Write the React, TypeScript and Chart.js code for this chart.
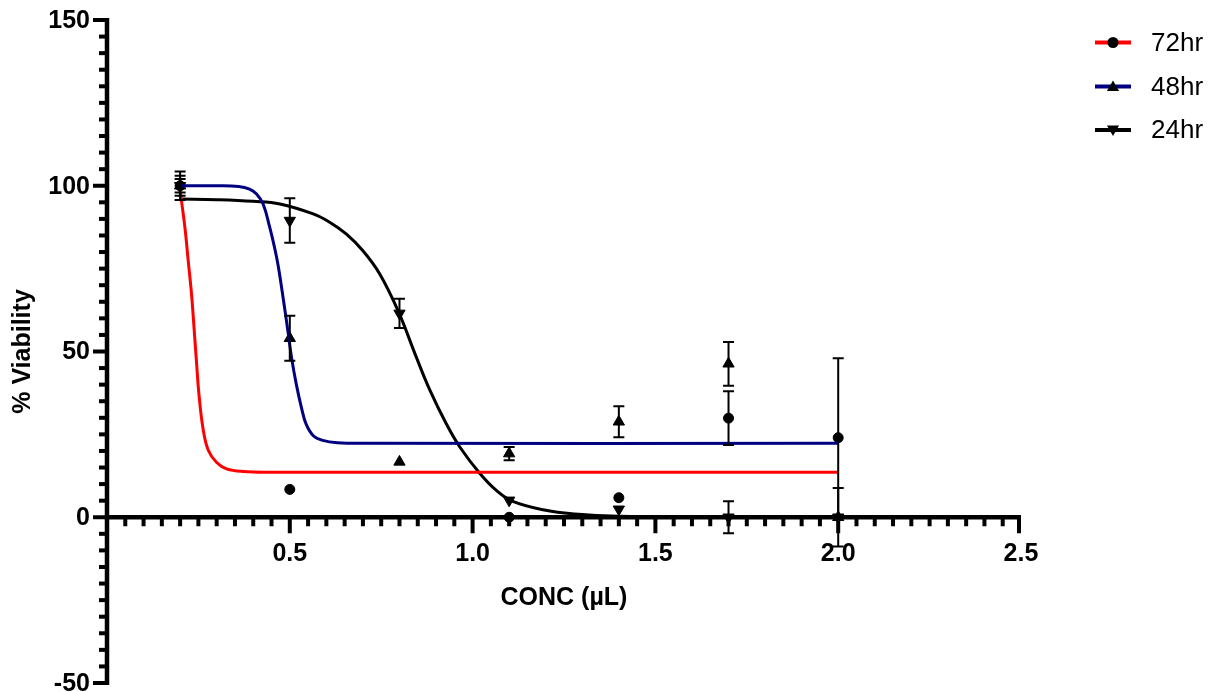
import React, { useEffect, useRef } from 'react';
import { Chart, registerables } from 'chart.js';

Chart.register(...registerables);

// ---- Data ----
const concentrations = [0.2, 0.5, 0.8, 1.1, 1.4, 1.7, 2.0];

const viability72: (number | null)[] = [100, 8.4, null, 0, 5.9, 29.9, 24];
const error72 = [2, 0, 0, 0, 0, 8.1, 24];

const viability48: (number | null)[] = [100, 54, 16.7, 19.2, 28.8, 46.3, 0];
const error48 = [3, 6.8, 0, 2.0, 4.7, 6.6, 0];

const viability24: (number | null)[] = [100, 89.5, 61.5, 5.1, 2.4, 0, 0];
const error24 = [4.3, 6.7, 4.4, 0, 0, 4.8, 8.8];

// fitted curves
const fit72X = [0.2, 0.213, 0.222, 0.231, 0.2385, 0.245, 0.252, 0.263, 0.277, 0.3, 0.327, 0.372, 0.45, 2.0];
const fit72Y = [98.5, 87.5, 77.5, 67.5, 56.5, 46.5, 36.5, 26.5, 20.2, 16.5, 14.6, 13.8, 13.6, 13.6];

const fit48X = [0.2, 0.3, 0.36, 0.39, 0.409, 0.427, 0.445, 0.459, 0.468, 0.482, 0.495, 0.505, 0.518, 0.532, 0.545, 0.565, 0.59, 0.63, 0.7, 2.0];
const fit48Y = [100, 100, 99.8, 99, 97.5, 94.5, 87.5, 81, 76, 66, 56, 48, 40, 33, 28, 24.5, 23.2, 22.5, 22.3, 22.3];

const fit24X = [0.2, 0.3, 0.4, 0.473, 0.564, 0.609, 0.655, 0.7, 0.746, 0.796, 0.846, 0.8825, 0.928, 0.965, 1.02, 1.065, 1.11, 1.2, 1.28, 1.4, 1.6, 2.0];
const fit24Y = [96, 95.8, 95.3, 94.5, 91.5, 89, 85.4, 80.4, 73.4, 62.3, 48.3, 38.5, 28.2, 21.2, 13.2, 8.1, 4.8, 2.1, 1.0, 0.3, 0.05, 0];

const seriesNames = ['72hr', '48hr', '24hr'];
const seriesColors = ['#ff0000', '#000080', '#000000'];
const seriesMarkers = ['circle', 'up', 'down'];

const xMin = 0;
const xMax = 2.5;
const yMin = -50;
const yMax = 150;
const xTickValues = [0.5, 1.0, 1.5, 2.0, 2.5];
const xTickLabels = ['0.5', '1.0', '1.5', '2.0', '2.5'];
const yTickValues = [-50, 0, 50, 100, 150];
const yTickLabels = ['-50', '0', '50', '100', '150'];
const xMinorStep = 0.05;
const yMinorStep = 5;

const xTitle = 'CONC (µL)';
const yTitle = '% Viability';

const FONT = '"Liberation Sans", Arial, Helvetica, sans-serif';

function pts(xs: number[], ys: (number | null)[]) {
  return xs.map((x, i) => ({ x, y: ys[i] }));
}

function drawMarker(ctx: CanvasRenderingContext2D, style: string, x: number, y: number, r: number) {
  ctx.beginPath();
  if (style === 'circle') {
    ctx.arc(x, y, r, 0, Math.PI * 2);
  } else {
    const d = style === 'up' ? 1 : -1;
    const s = Math.sqrt(3) / 2;
    ctx.moveTo(x, y - d * r);
    ctx.lineTo(x + s * r, y + d * r * 0.5);
    ctx.lineTo(x - s * r, y + d * r * 0.5);
    ctx.closePath();
  }
  ctx.fill();
}

const prismPlugin = {
  id: 'prismAxes',
  beforeDatasetsDraw(chart: any) {
    const ctx: CanvasRenderingContext2D = chart.ctx;
    const xs = chart.scales.x;
    const ys = chart.scales.y;
    const x0 = xs.getPixelForValue(0);
    const y0 = ys.getPixelForValue(0);
    ctx.save();
    ctx.fillStyle = '#000';
    const aw = 4.5;
    // y axis line
    const yTopPx = ys.getPixelForValue(yMax);
    const yBotPx = ys.getPixelForValue(yMin);
    ctx.fillRect(x0 - aw / 2, yTopPx - 2, aw, yBotPx - yTopPx + 4);
    // y ticks
    const nY = Math.round((yMax - yMin) / yMinorStep);
    for (let i = 0; i <= nY; i++) {
      const v = yMin + i * yMinorStep;
      const p = ys.getPixelForValue(v);
      const major = yTickValues.includes(v);
      const len = major ? 14 : 8;
      ctx.fillRect(x0 - len, p - 2, len, 4);
    }
    // x axis line
    const xRightPx = xs.getPixelForValue(xMax);
    ctx.fillRect(x0 - aw / 2, y0 - aw / 2, xRightPx - x0 + aw / 2, aw);
    const nX = Math.round((xMax - xMin) / xMinorStep);
    for (let i = 1; i <= nX; i++) {
      const v = +(xMin + i * xMinorStep).toFixed(3);
      const p = xs.getPixelForValue(v);
      const major = xTickValues.some((t) => Math.abs(t - v) < 1e-6);
      const len = major ? 16 : 9;
      const w = 4;
      let px = p - w / 2;
      if (i === nX) px = p - w;
      ctx.fillRect(px, y0, w, len);
    }
    // tick labels
    ctx.font = 'bold 25px ' + FONT;
    ctx.textAlign = 'center';
    ctx.textBaseline = 'middle';
    xTickValues.forEach((v, i) => {
      ctx.fillText(xTickLabels[i], xs.getPixelForValue(v), y0 + 37);
    });
    ctx.textAlign = 'right';
    yTickValues.forEach((v, i) => {
      ctx.fillText(yTickLabels[i], x0 - 17, ys.getPixelForValue(v) + 1);
    });
    // titles
    ctx.font = 'bold 25px ' + FONT;
    ctx.textAlign = 'center';
    ctx.fillText(xTitle, (x0 + xRightPx) / 2, 598);
    ctx.save();
    ctx.translate(23, (yTopPx + yBotPx) / 2);
    ctx.rotate(-Math.PI / 2);
    ctx.fillText(yTitle, 0, 0);
    ctx.restore();
    ctx.restore();
  },
  afterDatasetsDraw(chart: any) {
    const ctx: CanvasRenderingContext2D = chart.ctx;
    const ys = chart.scales.y;
    const errs = [error72, error48, error24];
    const vals = [viability72, viability48, viability24];
    ctx.save();
    ctx.strokeStyle = '#000';
    ctx.lineWidth = 2;
    for (let s = 0; s < 3; s++) {
      const meta = chart.getDatasetMeta(3 + s);
      meta.data.forEach((el: any, i: number) => {
        const v = vals[s][i];
        const e = errs[s][i];
        if (v == null || !e) return;
        const x = el.x;
        const yt = ys.getPixelForValue(v + e);
        const yb = ys.getPixelForValue(v - e);
        ctx.beginPath();
        ctx.moveTo(x, yt);
        ctx.lineTo(x, yb);
        ctx.moveTo(x - 5.5, yt);
        ctx.lineTo(x + 5.5, yt);
        ctx.moveTo(x - 5.5, yb);
        ctx.lineTo(x + 5.5, yb);
        ctx.stroke();
      });
    }
    ctx.restore();
  },
  afterDraw(chart: any) {
    const ctx: CanvasRenderingContext2D = chart.ctx;
    ctx.save();
    const rows = [42.5, 86.5, 130];
    ctx.font = '26px ' + FONT;
    ctx.textAlign = 'left';
    ctx.textBaseline = 'middle';
    seriesNames.forEach((name, i) => {
      const y = rows[i];
      ctx.fillStyle = seriesColors[i];
      ctx.fillRect(1095, y - 2, 36, 4);
      ctx.fillStyle = '#000';
      const m = seriesMarkers[i];
      drawMarker(ctx, m, 1113, y + (m === 'circle' ? 0 : m === 'up' ? 1 : -1), m === 'circle' ? 5.5 : 7);
      ctx.fillText(name, 1151, y + 1);
    });
    ctx.restore();
  },
};

export default function App() {
  const ref = useRef<HTMLCanvasElement | null>(null);
  useEffect(() => {
    if (!ref.current) return;
    const curve = (xs: number[], ys: number[], color: string, label: string) => ({
      type: 'line' as const,
      label,
      data: pts(xs, ys),
      borderColor: color,
      borderWidth: 3,
      pointRadius: 0,
      fill: false,
      showLine: true,
      tension: 0.4,
      cubicInterpolationMode: 'default' as const,
      clip: false as any,
    });
    const points = (ys: (number | null)[], style: string, rotation: number, radius: number, label: string) => ({
      type: 'scatter' as const,
      label,
      data: pts(concentrations, ys),
      pointStyle: style as any,
      rotation,
      pointRadius: radius,
      pointBackgroundColor: '#000',
      pointBorderColor: '#000',
      pointBorderWidth: 1,
      showLine: false,
      clip: false as any,
    });
    const chart = new Chart(ref.current, {
      type: 'scatter',
      data: {
        datasets: [
          curve(fit72X, fit72Y, seriesColors[0], seriesNames[0] + ' fit'),
          curve(fit48X, fit48Y, seriesColors[1], seriesNames[1] + ' fit'),
          curve(fit24X, fit24Y, seriesColors[2], seriesNames[2] + ' fit'),
          points(viability72, 'circle', 0, 5, seriesNames[0]),
          points(viability48, 'triangle', 0, 6.5, seriesNames[1]),
          points(viability24, 'triangle', 180, 6.5, seriesNames[2]),
        ] as any,
      },
      options: {
        animation: false,
        responsive: false,
        maintainAspectRatio: false,
        layout: { padding: { left: 107, right: 201, top: 20, bottom: 9 } },
        plugins: { legend: { display: false }, tooltip: { enabled: false } },
        scales: {
          x: { type: 'linear', min: xMin, max: xMax, display: false },
          y: { type: 'linear', min: yMin, max: yMax, display: false },
        },
      },
      plugins: [prismPlugin],
    });
    return () => chart.destroy();
  }, []);
  return (
    <div style={{ position: 'absolute', left: 0, top: 0, width: 1222, height: 692, background: '#fff' }}>
      <canvas ref={ref} width={1222} height={692} style={{ width: 1222, height: 692, display: 'block' }} />
    </div>
  );
}
